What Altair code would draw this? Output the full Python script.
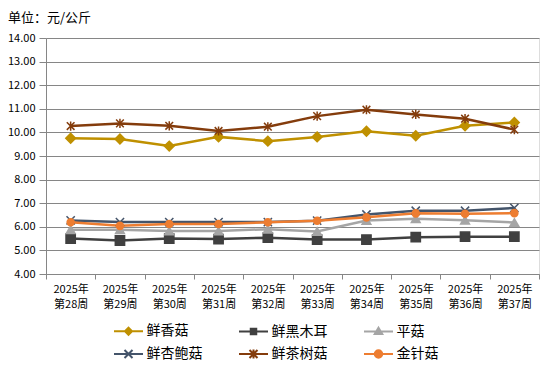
import altair as alt
import pandas as pd

weeks = ["2025年第28周", "2025年第29周", "2025年第30周", "2025年第31周", "2025年第32周",
         "2025年第33周", "2025年第34周", "2025年第35周", "2025年第36周", "2025年第37周"]
series = ["鲜香菇", "鲜黑木耳", "平菇", "鲜杏鲍菇", "鲜茶树菇", "金针菇"]
xianggu = [9.75, 9.72, 9.42, 9.81, 9.63, 9.81, 10.05, 9.86, 10.28, 10.42]
heimuer = [5.50, 5.42, 5.50, 5.48, 5.54, 5.46, 5.46, 5.56, 5.58, 5.58]
pinggu = [5.88, 5.88, 5.82, 5.82, 5.90, 5.80, 6.27, 6.34, 6.28, 6.18]
xingbaogu = [6.27, 6.20, 6.20, 6.20, 6.20, 6.26, 6.52, 6.68, 6.68, 6.80]
chashugu = [10.27, 10.38, 10.28, 10.06, 10.24, 10.69, 10.96, 10.76, 10.58, 10.12]
jinzhengu = [6.19, 6.04, 6.12, 6.12, 6.19, 6.26, 6.40, 6.57, 6.55, 6.58]
y_ticks = [4, 5, 6, 7, 8, 9, 10, 11, 12, 13, 14]

colors = ["#BF9000", "#404040", "#A5A5A5", "#44546A", "#843C0C", "#ED7D31"]
X_PATH = "M-1,-1L1,1M-1,1L1,-1"
AST_PATH = "M-1,-1L1,1M-1,1L1,-1M0,-1.2V1.2"
marker_shapes = ["diamond", "square", "triangle-up", X_PATH, AST_PATH, "circle"]
marker_sizes = [95, 50, 70, 64, 90, 105]

LINE = "M-2.9,0H2.9"
legend_paths = [
    LINE + "M-0.7,0L0,-0.7L0.7,0L0,0.7Z",
    LINE + "M-0.55,-0.55H0.55V0.55H-0.55Z",
    LINE + "M0,-0.75L0.75,0.5H-0.75Z",
    LINE + "M-0.8,-0.8L0.8,0.8M-0.8,0.8L0.8,-0.8",
    LINE + "M-0.8,-0.8L0.8,0.8M-0.8,0.8L0.8,-0.8M0,-0.9V0.9",
    LINE + "M-0.75,0A0.75,0.75,0,1,1,0.75,0A0.75,0.75,0,1,1,-0.75,0Z",
]

values = [xianggu, heimuer, pinggu, xingbaogu, chashugu, jinzhengu]
rows = []
for s, vals in zip(series, values):
    for w, v in zip(weeks, vals):
        rows.append({"week": w, "series": s, "value": v})
df = pd.DataFrame(rows)

FONT = "Noto Sans CJK SC"
cscale = alt.Scale(domain=series, range=colors)

x_enc = alt.X(
    "week:O", sort=weeks, title=None,
    scale=alt.Scale(type="band", paddingInner=0, paddingOuter=0),
    bandPosition=0.5,
    axis=alt.Axis(
        tickBand="extent", labelAngle=0, labelFontSize=11, labelFont=FONT,
        labelColor="#000000", labelLineHeight=15, labelPadding=4,
        labelExpr="[slice(datum.label,0,5), slice(datum.label,5)]",
        tickColor="#868686", tickSize=5, domainColor="#868686", grid=False,
        labelBaseline="top",
    ),
)
y_enc = alt.Y(
    "value:Q", title=None,
    scale=alt.Scale(domain=[4, 14], nice=False, zero=False),
    axis=alt.Axis(
        values=y_ticks, format=".2f", labelFontSize=11, labelFont=FONT,
        labelColor="#000000", tickColor="#868686", tickSize=7, labelPadding=4,
        domainColor="#868686", gridColor="#868686", gridWidth=1,
    ),
)

base = alt.Chart(df)
lines = base.mark_line(strokeWidth=2.5).encode(
    x=x_enc, y=y_enc,
    color=alt.Color("series:N", scale=cscale, legend=None),
    detail="series:N",
)
pts = base.mark_point(filled=True, opacity=1, strokeWidth=1.5).encode(
    x=x_enc, y=y_enc,
    fill=alt.Fill("series:N", scale=cscale, legend=None),
    stroke=alt.Stroke("series:N", scale=cscale, legend=None),
    shape=alt.Shape("series:N", scale=alt.Scale(domain=series, range=marker_shapes), legend=None),
    size=alt.Size("series:N", scale=alt.Scale(domain=series, range=marker_sizes), legend=None),
)
leg_props = dict(
    title=None, orient="none", legendX=66, legendY=286, direction="horizontal",
    columns=3, symbolSize=100, symbolStrokeWidth=2, symbolOffset=9.5, labelOffset=11,
    labelFontSize=14, labelFont=FONT, labelColor="#000000", columnPadding=32,
    rowPadding=6, labelLimit=200,
)
leg = base.transform_filter("datum.value < 0").mark_point(filled=True, opacity=1).encode(
    fill=alt.Fill("series:N", scale=cscale, legend=alt.Legend(**leg_props)),
    stroke=alt.Stroke("series:N", scale=cscale, legend=alt.Legend(**leg_props)),
    shape=alt.Shape("series:N", scale=alt.Scale(domain=series, range=legend_paths),
                    legend=alt.Legend(**leg_props)),
)

chart = alt.layer(lines, pts, leg).resolve_scale(
    shape="independent", fill="independent", stroke="independent"
).properties(
    width=493, height=236,
    padding={"left": 38, "top": 30, "right": 3, "bottom": 88},
    autosize=alt.AutoSizeParams(type="none"),
    title=alt.TitleParams("单位：元/公斤", anchor="start", frame="group", dx=-38,
                          offset=7, fontSize=13, fontWeight="normal", font=FONT,
                          color="#000000"),
).configure_view(stroke=None).configure(background="white")

chart.save("out.html", embed_options={"renderer": "svg", "actions": False})
